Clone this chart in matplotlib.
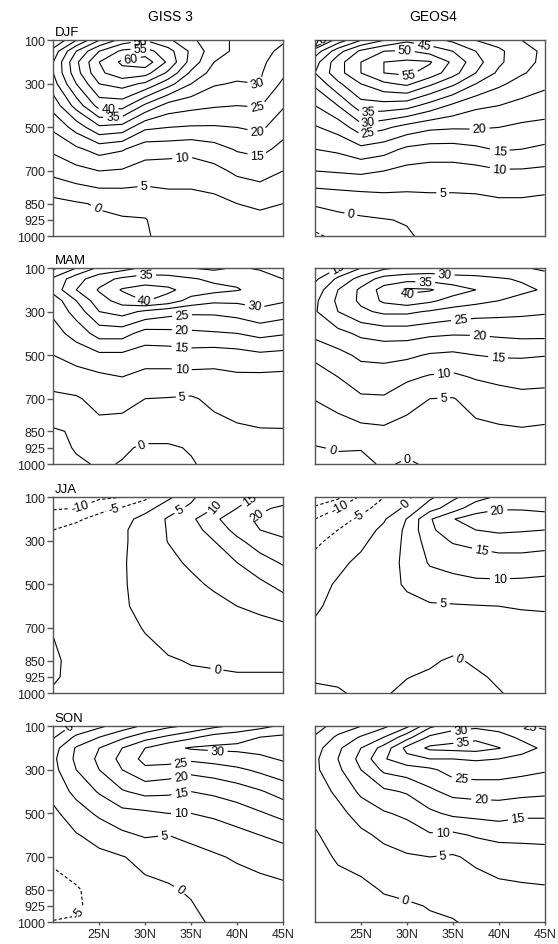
"""Seasonal zonal-mean zonal wind cross sections, GISS 3 vs GEOS4 (m/s)."""
import matplotlib
matplotlib.use("Agg")
import matplotlib.pyplot as plt
import numpy as np

plt.rcParams["font.family"] = ["Liberation Sans", "DejaVu Sans"]
plt.rcParams["axes.unicode_minus"] = False

# -- grid --
LAT = [20, 22.5, 25, 27.5, 30, 32.5, 35, 37.5, 40, 42.5, 45]
PLEV = [100, 150, 200, 250, 300, 400, 500, 600, 700, 850, 925, 1000]

# -- wind fields, one row per pressure level (top to bottom) --
DJF_GISS = [
    [20, 30, 40, 47, 50, 46, 41, 37, 34, 32, 30.5],
    [27, 40, 50, 56, 57, 52, 44, 37, 34, 31.5, 29],
    [30, 44, 55, 61, 63, 54, 43, 35, 33, 31, 27.5],
    [30, 43, 54, 58, 57, 49, 39, 33, 31.5, 30.5, 26],
    [28, 40, 50, 52, 49, 42, 35, 30.5, 29.5, 30, 24],
    [22, 32, 42, 42, 34, 28, 26.5, 25.5, 25, 25.3, 20.5],
    [16, 22, 29, 28, 21, 20, 19.5, 19.5, 20, 21, 17],
    [11, 14, 17, 15.5, 12, 12, 11.5, 13, 15.5, 16.5, 13.5],
    [6.5, 8.5, 10, 9.5, 8, 7.5, 7.5, 8.5, 11, 12, 10],
    [-1.5, -0.5, 0.5, 1, 1.5, 3, 3, 3.5, 5, 6, 5],
    [-2.5, -1.5, -0.8, -0.3, -0.2, 2, 2, 2.5, 3.5, 3.5, 3.5],
    [-3, -2.5, -2, -1.5, -0.5, 1.5, 2, 2, 2.5, 2, 2.5],
]
DJF_GEOS4 = [
    [18, 27, 35, 40, 44, 42, 39, 35, 33, 30, 28],
    [27, 38, 46, 50, 50.5, 48, 45, 40, 36, 32, 29],
    [33, 43, 50, 55, 56, 55.5, 49, 42, 36, 31.5, 29],
    [35, 43, 50, 55, 56, 53, 47, 40, 34, 30.5, 28],
    [31, 39, 45, 49, 51, 46, 41, 35, 31, 28, 26],
    [25, 30, 38, 38, 37, 33, 29, 26, 25, 23.5, 22.5],
    [19.5, 22, 28, 26, 23, 21, 20.5, 20.5, 20, 19, 18.5],
    [15, 16, 18.5, 17, 14, 13, 13, 14, 15.5, 15, 14],
    [10, 10.5, 11, 10, 8.5, 8, 8, 8.5, 9.5, 9.5, 9],
    [0.5, 1, 1.5, 2.5, 3, 3.5, 3.5, 3.5, 4, 4, 3.5],
    [-2.5, -1, -0.5, -0.2, 0.3, 2, 2.5, 2.5, 2.5, 2.5, 2.5],
    [-6, -3.5, -2.5, -1.5, -0.5, 1, 1.5, 1.5, 1.5, 1.5, 1.5],
]
MAM_GISS = [
    [14, 20, 26, 28, 31, 31, 30, 29, 30.5, 29.5, 26],
    [21, 28, 33, 36, 37.5, 37, 35.5, 34, 34, 32, 30],
    [22, 30, 35.5, 40.5, 42, 41, 38, 36.5, 35.3, 33.5, 32],
    [17, 25, 33, 37, 40.3, 38, 33, 31, 31, 31.5, 30.5],
    [16, 22, 30, 32, 29, 27, 26, 26, 27, 29, 27.5],
    [13, 17, 22, 22, 18, 18.5, 19, 19.5, 20, 21.5, 20.5],
    [10, 12, 14, 14, 12.5, 12.5, 13, 12.5, 13, 14, 13.5],
    [7, 8, 9, 10, 8.5, 8.5, 8.5, 8.5, 9.2, 9, 8.8],
    [4, 4.5, 6.5, 7, 5, 4.8, 4.5, 6, 7, 7.5, 7],
    [-0.5, 0.5, 3.5, 2.5, 1.5, 1.5, 2, 3.5, 4.3, 4.7, 4.8],
    [-2, 0.5, 1.5, 0.5, -0.5, -0.5, 0.3, 1.5, 2.5, 3, 3],
    [-3, -0.8, 0.5, -0.2, -1.5, -1.5, -0.3, 1, 1.5, 2, 2],
]
MAM_GEOS4 = [
    [10, 15, 20, 24, 26, 27, 26.5, 26.5, 26, 25.5, 24],
    [14, 21, 27, 32, 33, 33, 32, 31.5, 30.5, 29.5, 27.5],
    [17, 25, 31, 37, 41, 40.5, 37.5, 35, 32.5, 31, 29.5],
    [19, 26, 31, 36, 38, 36, 33, 31.5, 30, 28.5, 27.5],
    [19.5, 25, 29, 31, 31, 29.5, 28, 27, 26.5, 26, 25.5],
    [16.5, 18.5, 21, 22, 22, 21, 20.5, 20.5, 21, 21.5, 21.5],
    [11, 13.5, 16, 16.5, 16, 14.5, 14, 15, 15.5, 15.5, 15.2],
    [8, 10, 12.5, 12.5, 11, 9.5, 9, 10.5, 11.5, 12, 11.3],
    [5.2, 7, 9.3, 9.5, 6.8, 5, 4.8, 6.5, 7.5, 8.5, 8.7],
    [1.5, 2.5, 3.5, 4, 3.2, 3, 3.5, 4, 4.3, 4.5, 4],
    [-0.2, 0.3, 0.2, 1.5, 1, 1.5, 2, 2.5, 3, 3, 3],
    [-1, -1, -1, 0.5, -0.5, 0.5, 1.5, 1.5, 2, 2, 2],
]
JJA_GISS = [
    [-13, -12, -11, -10, -6, -1, 4, 9, 13, 16, 17],
    [-10.5, -10, -6, -4.5, -2, 3, 6, 10, 15, 19, 21],
    [-7, -5.5, -4, -2, 2, 5.5, 9, 14, 18, 21, 23],
    [-5, -4, -3.2, -1, 3, 5.2, 8, 12, 16.5, 20, 22],
    [-4, -3.5, -3, -1, 3, 5.1, 7, 10, 14, 17.5, 19],
    [-3, -3, -2.5, -0.7, 3, 4.2, 5.5, 7.5, 10, 13, 15.5],
    [-2.5, -2.5, -2.2, -0.7, 2.5, 3, 4.3, 5.5, 7, 9, 11.5],
    [-1.5, -2, -2, -0.7, 1.5, 2.5, 3, 4, 5, 6, 7.5],
    [-0.3, -1.8, -1.8, -1, 0.2, 1.5, 2, 2.5, 3, 3.5, 4],
    [0.8, -1.5, -1.5, -1.2, -1, -0.3, 0.2, 0.3, 0.5, 0.5, 0.5],
    [0.5, -1.2, -1.2, -1, -1, -0.8, -0.5, -0.3, -0.2, -0.2, -0.2],
    [-0.5, -1, -1, -1, -1, -1, -0.8, -0.6, -0.5, -0.5, -0.5],
]
JJA_GEOS4 = [
    [-19, -16, -9, -5, -1, 4, 9, 13, 16, 16.5, 16],
    [-14, -10, -6.5, -3, 1, 8, 12.5, 18, 19.5, 19.5, 19],
    [-10, -7, -4, -0.5, 5.2, 14.5, 19.8, 22, 23, 22.5, 22],
    [-7, -5, -2, 1, 6, 14, 18, 20, 21, 20.5, 20],
    [-6, -3.5, -1, 2, 6, 12.5, 15.5, 16.5, 17.5, 17.5, 17],
    [-3.5, -1, 1, 3, 6, 10.5, 11.5, 12.5, 13, 13, 12.5],
    [-1.5, 0.5, 2, 3.5, 5.5, 7.5, 8.5, 9, 9, 8.8, 8.5],
    [-0.5, 1, 2, 3, 4, 4.5, 4.6, 4.8, 5, 5.3, 5.5],
    [0.5, 1.5, 2, 2.5, 3, 3, 3, 3, 3.5, 3.5, 3.5],
    [0.8, 1.2, 1.5, 1.5, 1, 0.5, -0.5, 0.5, 1.5, 2, 2],
    [0.3, 0.5, 1, 1, 0.1, -0.5, -1, -0.5, 0.5, 1.2, 1.5],
    [-0.5, -0.3, 0.5, 0.3, -0.7, -1, -1.5, -1, -0.2, 0.8, 1.2],
]
SON_GISS = [
    [-3, 1, 4, 7.5, 11, 14, 16, 19, 21, 23.5, 26],
    [-0.5, 6, 10, 14, 18, 21, 24, 27, 28.5, 30, 31],
    [3, 10.5, 15, 20, 25, 28.5, 30.5, 31, 31, 31.5, 32],
    [4, 11, 16, 21.5, 26.5, 27, 26, 27, 28, 29, 30.5],
    [3.5, 10, 15, 20, 24, 23, 21.5, 22.5, 24, 26, 28],
    [1.5, 6.5, 10.5, 14.5, 16.5, 16, 15, 16, 17.5, 19.5, 22],
    [-1, 2.5, 6, 8.5, 9, 10, 10, 11, 12.5, 14.5, 16.5],
    [-2, -0.3, 1.5, 4, 5.5, 5, 6, 7, 8.5, 10, 11.5],
    [-4, -2, -1, -0.2, 1.2, 2, 3.5, 4.5, 5.5, 6.5, 7.5],
    [-7, -5.5, -3, -1.5, -1, -0.5, 0.5, 2, 3, 3.5, 4],
    [-6.5, -5.8, -3, -1.5, -1, -1, -0.3, 1.5, 2, 2.5, 3],
    [-4.8, -4.5, -2.5, -1.5, -1.2, -1.2, -0.8, 0.5, 1.5, 2, 2],
]
SON_GEOS4 = [
    [-2, 2, 5, 9, 14, 24, 28, 29, 28, 25.5, 24],
    [0.5, 6, 10.5, 15, 23, 31, 33, 34, 32, 29, 27.5],
    [3, 9, 15, 22, 31.5, 36, 36.5, 37, 35.2, 32, 29],
    [4, 10, 16.5, 24.5, 28.5, 30, 30, 30.5, 30, 28.5, 27.5],
    [4, 9, 15, 21, 22.5, 24, 27, 27.5, 27.5, 26.5, 25.5],
    [2.5, 6, 11, 14, 15.5, 19, 21.5, 22, 22, 21.5, 21],
    [1, 3.5, 7, 9.5, 11, 14, 16, 16.5, 17, 16, 16],
    [-0.5, 2, 4, 6, 7.5, 9.5, 9, 10.5, 11.5, 11.5, 11.5],
    [-1.5, 0.5, 1.5, 3.5, 4.5, 5, 4.5, 6, 7, 7.5, 8],
    [-2.5, -1.5, -1, 0.3, 1, 1.5, 2, 3, 4, 4.3, 4.5],
    [-2.5, -2, -1.5, -0.8, -0.5, 0.2, 1, 2, 3, 3, 3.3],
    [-2, -2, -1.5, -1, -1, -0.5, -0.3, 1, 2, 2, 2.5],
]

SEASONS = ["DJF", "MAM", "JJA", "SON"]
MODELS = ["GISS 3", "GEOS4"]
FIELDS = [
    [DJF_GISS, DJF_GEOS4],
    [MAM_GISS, MAM_GEOS4],
    [JJA_GISS, JJA_GEOS4],
    [SON_GISS, SON_GEOS4],
]
LEVELS = np.arange(-20, 70, 5)
YTICKS = [100, 300, 500, 700, 850, 925, 1000]
XTICKS = [25, 30, 35, 40, 45]
XTICKLABELS = ["25N", "30N", "35N", "40N", "45N"]

# -- where the contour labels sit (lat, hPa), per panel --
LABEL_AT = [
    [[(28.5, 200), (29.5, 155), (29.5, 108), (26, 410), (26.5, 455), (42.2, 300),
      (42.2, 407), (42.2, 520), (42.2, 630), (34, 621), (29.8, 744), (25, 850)],
     [(30.1, 246), (29.8, 161), (31.8, 128), (25.8, 430), (25.8, 468), (25.8, 537),
      (37.9, 506), (40.1, 606), (40.1, 721), (33.9, 775), (24, 875), (20.6, 104)]],
    [[(30.1, 146), (30, 225), (41.9, 280), (34, 310), (34, 374), (34, 443),
      (34, 542), (34, 672), (29.7, 915)],
     [(30.1, 225), (32, 164), (34.1, 134), (35.9, 352), (37.9, 428), (39.9, 519),
      (34, 573), (34, 687), (22, 915), (30, 969), (22.8, 112)]],
    [[(22.9, 138), (26.7, 164), (34, 174), (37.5, 141), (41.6, 123), (42.1, 177),
      (37.9, 869)],
     [(22.9, 161), (24.7, 184), (30, 131), (39.9, 174), (38.1, 356), (40.1, 455),
      (34, 552), (35.9, 820)]],
    [[(37.9, 200), (33.9, 265), (33.9, 327), (33.9, 396), (33.9, 490), (32.1, 602),
      (34, 837), (22, 112), (22.7, 954)],
     [(36.1, 166), (35.9, 128), (35.9, 357), (38.1, 423), (42.1, 533), (33.9, 572),
      (33.9, 686), (30, 870), (42.3, 112)]],
]

# -- panel geometry in figure fractions --
COL_X = [0.0955, 0.5645]
COL_W = 0.4117
ROW_Y = [0.7489, 0.5079, 0.2653, 0.0230]
ROW_H = 0.2074
SPINE = "#555555"

fig = plt.figure(figsize=(5.58, 9.45), dpi=100)
lat = np.array(LAT)
plev = np.array(PLEV)

for r, season in enumerate(SEASONS):
    for c, model in enumerate(MODELS):
        ax = fig.add_axes([COL_X[c], ROW_Y[r], COL_W, ROW_H])
        ax.set_xlim(20, 45)
        ax.set_ylim(1000, 100)
        u = np.array(FIELDS[r][c], dtype=float)
        cs = ax.contour(lat, plev, u, levels=LEVELS, colors="black",
                        linewidths=0.8, negative_linestyles=(0, (3, 2)))
        ax.clabel(cs, inline=True, inline_spacing=3, fontsize=9,
                  fmt=lambda v: f"{v:.0f}", manual=LABEL_AT[r][c])

        for s in ax.spines.values():
            s.set_color(SPINE)
            s.set_linewidth(1.0)
        ax.set_yticks(YTICKS)
        ax.set_xticks(XTICKS)
        if c == 0:
            ax.set_yticklabels([str(v) for v in YTICKS])
            ax.tick_params(axis="y", direction="out", length=4, width=1.0,
                           color=SPINE, labelsize=9, labelcolor="#222222", pad=2)
        else:
            ax.tick_params(axis="y", length=0, labelleft=False)
        if r == len(SEASONS) - 1:
            ax.set_xticklabels(XTICKLABELS)
            ax.tick_params(axis="x", direction="out", length=2, width=1.0,
                           color=SPINE, labelsize=9, labelcolor="#222222", pad=2)
        else:
            ax.tick_params(axis="x", length=0, labelbottom=False)
        if c == 0:
            ax.text(0.005, 1.012, season, transform=ax.transAxes, fontsize=9.5,
                    ha="left", va="bottom")

fig.text(170 / 558, 1 - 17 / 945, MODELS[0], ha="center", va="center", fontsize=10)
fig.text(433 / 558, 1 - 17 / 945, MODELS[1], ha="center", va="center", fontsize=10)

fig.savefig("out.png", dpi=100)
plt.close(fig)
